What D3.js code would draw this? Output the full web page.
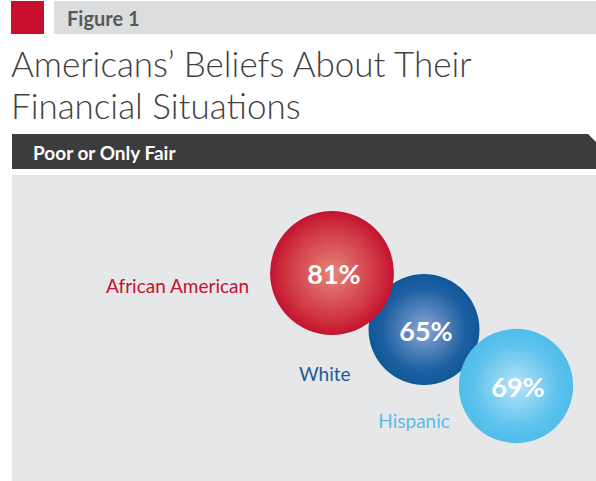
<!DOCTYPE html>
<html>
<head>
<meta charset="utf-8">
<script src="https://cdn.jsdelivr.net/npm/d3@7/dist/d3.min.js"></script>
<style>
  html, body { margin: 0; padding: 0; background: #fff; }
  svg { display: block; font-family: Lato, "Open Sans", sans-serif; }
</style>
</head>
<body>
<div id="chart"></div>
<script>
// data
const figureLabel = "Figure 1";
const titleLines = ["Americans’ Beliefs About Their", "Financial Situations"];
const subtitle = "Poor or Only Fair";
const groups = ["African American", "White", "Hispanic"];
const values = [81, 65, 69];

const colors = {
  "African American": { edge: "#c5122f", mid: "#cf3340", center: "#e5877a", text: "#c8102e" },
  "White":            { edge: "#0f5898", mid: "#1d60a1", center: "#8aa6d6", text: "#1c5a99" },
  "Hispanic":         { edge: "#4fbdea", mid: "#5cc2ed", center: "#b5e2f8", text: "#5bbde9" }
};
// label offsets from circle edge / center  [dx from left edge, dy from center]
const labelOffsets = [[-21, 20], [-18, 51], [-9, 42]];

const dim = { width: 596, height: 481 };

const svg = d3.select('#chart').append('svg')
  .attr('width', dim.width)
  .attr('height', dim.height);

// header
svg.append('rect').attr('x', 11).attr('y', 1).attr('width', 33).attr('height', 33).attr('fill', '#c8102e');
svg.append('rect').attr('x', 54).attr('y', 1).attr('width', dim.width - 54).attr('height', 33).attr('fill', '#dcdddf');
svg.append('text')
  .attr('x', 67).attr('y', 26)
  .attr('font-size', 20).attr('font-weight', 700)
  .attr('fill', '#58595b')
  .text(figureLabel);

svg.selectAll('.title').data(titleLines).join('text')
  .attr('class', 'title')
  .attr('x', 11)
  .attr('y', (d, i) => 77 + i * 42)
  .attr('font-size', 35)
  .attr('font-weight', 300)
  .attr('fill', '#414042')
  .text(d => d);

// dark band
svg.append('path')
  .attr('d', 'M12,134 L588,134 L600,146 L600,169 L12,169 Z')
  .attr('fill', '#3c3c3c');
svg.append('text')
  .attr('x', 33).attr('y', 160)
  .attr('font-size', 19).attr('font-weight', 700)
  .attr('fill', '#fff')
  .text(subtitle);

// panel
svg.append('rect')
  .attr('x', 12).attr('y', 175)
  .attr('width', dim.width - 12).attr('height', dim.height - 175)
  .attr('fill', '#e6e7e8');

// scales
const x = d3.scalePoint().domain(groups).range([332, 516]);
const y = d3.scalePoint().domain(groups).range([273, 386]);
const r = d3.scaleSqrt().domain([0, 100]).range([0, 68.8]);

const data = groups.map((g, i) => ({ group: g, value: values[i], off: labelOffsets[i] }));

// gradients
const defs = svg.append('defs');
data.forEach((d, i) => {
  const c = colors[d.group];
  const grad = defs.append('radialGradient')
    .attr('id', 'grad' + i)
    .attr('cx', '50%').attr('cy', '50%').attr('r', '50%');
  grad.append('stop').attr('offset', '0%').attr('stop-color', c.center);
  grad.append('stop').attr('offset', '75%').attr('stop-color', c.mid);
  grad.append('stop').attr('offset', '100%').attr('stop-color', c.edge);
});

// draw order: White, African American, Hispanic
const order = ["White", "African American", "Hispanic"];
const sorted = order.map(g => data.find(d => d.group === g));

const bubbles = svg.selectAll('.bubble')
  .data(sorted, d => d.group)
  .join('g')
  .attr('class', 'bubble');

bubbles.append('circle')
  .attr('cx', d => x(d.group))
  .attr('cy', d => y(d.group))
  .attr('r', d => r(d.value))
  .attr('fill', d => 'url(#grad' + groups.indexOf(d.group) + ')');

bubbles.append('text')
  .attr('x', d => x(d.group) + 2)
  .attr('y', d => y(d.group) + 11)
  .attr('text-anchor', 'middle')
  .attr('font-size', 27)
  .attr('font-weight', 700)
  .attr('fill', '#fff')
  .text(d => d.value + '%');

// category labels
svg.selectAll('.label')
  .data(data)
  .join('text')
  .attr('class', 'label')
  .attr('x', d => x(d.group) - r(d.value) + d.off[0])
  .attr('y', d => y(d.group) + d.off[1])
  .attr('text-anchor', 'end')
  .attr('font-size', 19)
  .attr('fill', d => colors[d.group].text)
  .text(d => d.group);
</script>
</body>
</html>
